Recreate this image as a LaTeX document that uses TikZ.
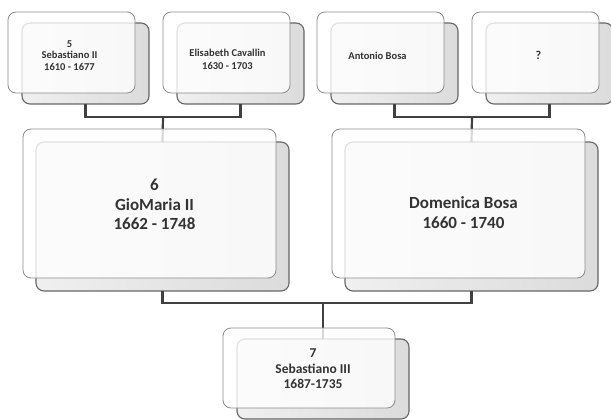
\documentclass[tikz,border=0pt]{standalone}
\usepackage{fontspec}
\setmainfont{Carlito}
\begin{document}
\begin{tikzpicture}[x=1pt,y=-1pt,
  backbox/.style={anchor=north west,inner sep=0pt,outer sep=0pt,rounded corners=8pt,
    draw=black!60,line width=1.1pt,left color=black!6,right color=black!14},
  frontbox/.style={anchor=north west,inner sep=0pt,outer sep=0pt,rounded corners=8pt,
    draw=black!45,line width=0.8pt,fill=white,fill opacity=0.8,text opacity=1},
  txt/.style={align=center,text=black!80,font=\bfseries},
  conn/.style={draw=black!75,line width=2.2pt},
  smallbox/.style={minimum width=127pt,minimum height=81pt},
  bigbox/.style={minimum width=253pt,minimum height=149pt},
  kidbox/.style={minimum width=172pt,minimum height=80pt}]
\useasboundingbox (0,0) rectangle (611,420);
\fill[white] (0,0) rectangle (611,420);
% junction coordinates
\coordinate (jl) at (163,117);
\coordinate (jr) at (472,117);
\coordinate (jc) at (323,303);
% back boxes
\node[backbox,smallbox] (b1) at (22,23) {};
\node[backbox,smallbox] (b2) at (177,23) {};
\node[backbox,smallbox] (b3) at (331,23) {};
\node[backbox,smallbox] (b4) at (486,23) {};
\node[backbox,bigbox] (b5) at (36,142) {};
\node[backbox,bigbox] (b6) at (345,142) {};
\node[backbox,kidbox] (b7) at (237,339) {};
% connectors
\draw[conn] (b1.south) |- (jl) -| (b2.south);
\draw[conn] (jl) -- (b5.north);
\draw[conn] (b3.south) |- (jr) -| (b4.south);
\draw[conn] (jr) -- (b6.north);
\draw[conn] (b5.south) |- (jc);
\draw[conn] (b6.south) |- (jc);
\draw[conn] (jc) -- (b7.north);
% front boxes
\node[frontbox,smallbox] (f1) at (8,12) {};
\node[frontbox,smallbox] (f2) at (163,12) {};
\node[frontbox,smallbox] (f3) at (317,12) {};
\node[frontbox,smallbox] (f4) at (472,12) {};
\node[frontbox,bigbox] (f5) at (23,129) {};
\node[frontbox,bigbox] (f6) at (332,129) {};
\node[frontbox,kidbox] (f7) at (223,328) {};
% texts
\node[txt,font=\bfseries\fontsize{10.5}{11.5}\selectfont] (t1) at ([xshift=-2pt,yshift=-3pt]f1.center) {5\\Sebastiano II\\1610 - 1677};
\node[txt,font=\bfseries\fontsize{10.5}{12.5}\selectfont] (t2) at ([xshift=1pt,yshift=-7pt]f2.center) {Elisabeth Cavallin\\1630 - 1703};
\node[txt,font=\bfseries\fontsize{10.5}{11.5}\selectfont] (t3) at ([xshift=-3pt,yshift=-3pt]f3.center) {Antonio Bosa};
\node[txt,font=\bfseries\fontsize{12}{13}\selectfont] (t4) at ([xshift=3pt,yshift=-3pt]f4.center) {?};
\node[txt,font=\bfseries\fontsize{17}{19.5}\selectfont] (t5) at ([xshift=5pt,yshift=-1pt]f5.center) {6\\GioMaria II\\1662 - 1748};
\node[txt,font=\bfseries\fontsize{17}{19.5}\selectfont] (t6) at ([xshift=5pt,yshift=-9pt]f6.center) {Domenica Bosa\\1660 - 1740};
\node[txt,font=\bfseries\fontsize{13.5}{15.5}\selectfont] (t7) at ([xshift=4pt,yshift=-1pt]f7.center) {7\\Sebastiano III\\1687-1735};
\end{tikzpicture}
\end{document}
